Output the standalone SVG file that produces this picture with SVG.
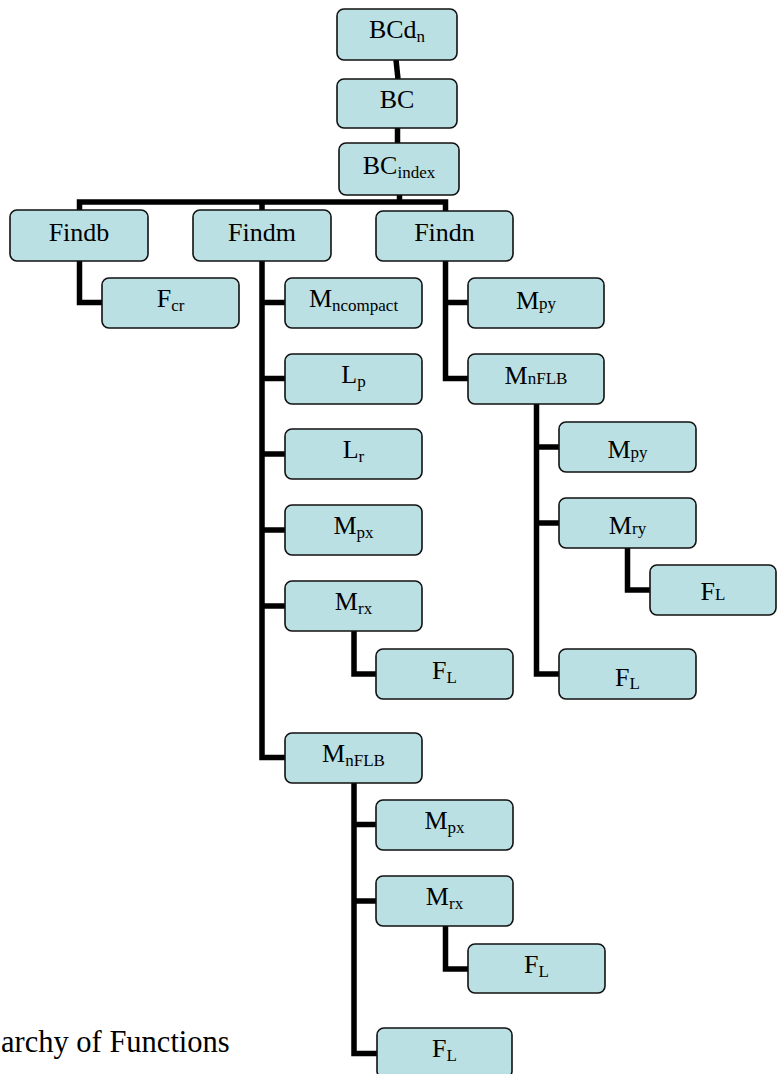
<svg xmlns="http://www.w3.org/2000/svg" width="778" height="1074" viewBox="0 0 778 1074">
<style>
.box{fill:#BBE0E3;stroke:#111;stroke-width:1.6}
.t{font-family:"Liberation Serif","Times New Roman",serif;font-size:26px;fill:#000;text-anchor:middle}
.s{font-size:17px}
.c{fill:none;stroke:#000;stroke-width:5.5;stroke-linejoin:miter;stroke-linecap:butt}
.cap{font-family:"Liberation Serif","Times New Roman",serif;font-size:30.5px;fill:#000}
</style>
<rect width="778" height="1074" fill="#fff"/>
<g id="connectors">
<path class="c" d="M396,60 L398,79"/>
<path class="c" d="M397.5,128 V143"/>
<path class="c" d="M399.5,195 V202"/>
<path class="c" d="M79.5,210 V202 H445.5 V211"/>
<path class="c" d="M262,202 V210"/>
<path class="c" d="M79.5,261 V302.5 H102"/>
<path class="c" d="M262,261 V757.5 H285"/>
<path class="c" d="M262,302.5 H285 M262,378.5 H285 M262,454 H285 M262,530 H285 M262,606 H285"/>
<path class="c" d="M354,631 V674 H376"/>
<path class="c" d="M354,783 V1053.5 H377"/>
<path class="c" d="M354,824.5 H376 M354,901 H376"/>
<path class="c" d="M445.5,926 V969 H468"/>
<path class="c" d="M445.5,261 V378.5 H468 M445.5,302.5 H468"/>
<path class="c" d="M536.5,404 V674 H559 M536.5,447 H559 M536.5,523 H559"/>
<path class="c" d="M627.5,548 V590 H650"/>
</g>
<g id="BCdn"><rect class="box" x="337" y="9" width="120" height="51" rx="7"/><text class="t" x="397" y="38">BCd<tspan class="s" dy="4">n</tspan></text></g>
<g id="BC"><rect class="box" x="337" y="79" width="120" height="49" rx="7"/><text class="t" x="397" y="108">BC</text></g>
<g id="BCindex"><rect class="box" x="339" y="143" width="120" height="52" rx="7"/><text class="t" x="399" y="174">BC<tspan class="s" dy="4">index</tspan></text></g>
<g id="Findb"><rect class="box" x="10" y="210" width="138" height="51" rx="7"/><text class="t" x="79" y="241">Findb</text></g>
<g id="Findm"><rect class="box" x="193" y="210" width="138" height="51" rx="7"/><text class="t" x="262" y="241">Findm</text></g>
<g id="Findn"><rect class="box" x="376" y="211" width="137" height="50" rx="7"/><text class="t" x="444.5" y="241">Findn</text></g>
<g id="Fcr"><rect class="box" x="102" y="278" width="137" height="50" rx="7"/><text class="t" x="170.5" y="307">F<tspan class="s" dy="4">cr</tspan></text></g>
<g id="Mncompact"><rect class="box" x="285" y="278" width="137" height="50" rx="7"/><text class="t" x="353.5" y="307">M<tspan class="s" dy="4">ncompact</tspan></text></g>
<g id="Lp"><rect class="box" x="285" y="354" width="137" height="50" rx="7"/><text class="t" x="353.5" y="383">L<tspan class="s" dy="4">p</tspan></text></g>
<g id="Lr"><rect class="box" x="285" y="429" width="137" height="50" rx="7"/><text class="t" x="353.5" y="458">L<tspan class="s" dy="4">r</tspan></text></g>
<g id="Mpx1"><rect class="box" x="285" y="505" width="137" height="50" rx="7"/><text class="t" x="353.5" y="534">M<tspan class="s" dy="4">px</tspan></text></g>
<g id="Mrx1"><rect class="box" x="285" y="581" width="137" height="50" rx="7"/><text class="t" x="353.5" y="610">M<tspan class="s" dy="4">rx</tspan></text></g>
<g id="FL1"><rect class="box" x="376" y="649" width="137" height="50" rx="7"/><text class="t" x="444.5" y="679">F<tspan class="s" dy="4">L</tspan></text></g>
<g id="MnFLB1"><rect class="box" x="285" y="733" width="137" height="50" rx="7"/><text class="t" x="353.5" y="762">M<tspan class="s" dy="4">nFLB</tspan></text></g>
<g id="Mpx2"><rect class="box" x="376" y="800" width="137" height="50" rx="7"/><text class="t" x="444.5" y="829">M<tspan class="s" dy="4">px</tspan></text></g>
<g id="Mrx2"><rect class="box" x="376" y="876" width="137" height="50" rx="7"/><text class="t" x="444.5" y="905">M<tspan class="s" dy="4">rx</tspan></text></g>
<g id="FL2"><rect class="box" x="468" y="944" width="137" height="49" rx="7"/><text class="t" x="536.5" y="973">F<tspan class="s" dy="4">L</tspan></text></g>
<g id="FL3"><rect class="box" x="377" y="1028" width="135" height="50" rx="7"/><text class="t" x="444.5" y="1057">F<tspan class="s" dy="4">L</tspan></text></g>
<g id="Mpy1"><rect class="box" x="468" y="278" width="136" height="50" rx="7"/><text class="t" x="536" y="309">M<tspan class="s">py</tspan></text></g>
<g id="MnFLB2"><rect class="box" x="468" y="354" width="136" height="50" rx="7"/><text class="t" x="536" y="384">M<tspan class="s">nFLB</tspan></text></g>
<g id="Mpy2"><rect class="box" x="559" y="422" width="137" height="50" rx="7"/><text class="t" x="627.5" y="458">M<tspan class="s">py</tspan></text></g>
<g id="Mry"><rect class="box" x="559" y="498" width="137" height="50" rx="7"/><text class="t" x="627.5" y="534">M<tspan class="s">ry</tspan></text></g>
<g id="FL4"><rect class="box" x="650" y="565" width="126" height="50" rx="7"/><text class="t" x="713" y="600">F<tspan class="s">L</tspan></text></g>
<g id="FL5"><rect class="box" x="559" y="649" width="137" height="50" rx="7"/><text class="t" x="627.5" y="686">F<tspan class="s" dy="3">L</tspan></text></g>
<text class="cap" x="1" y="1052">archy of Functions</text>
</svg>
